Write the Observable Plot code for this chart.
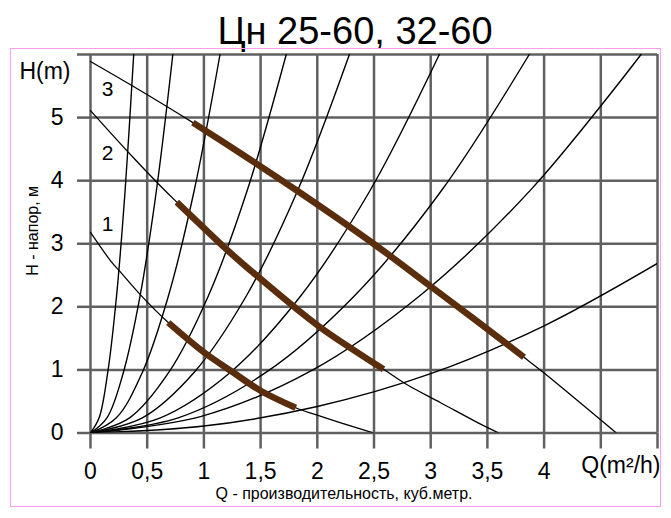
<!DOCTYPE html>
<html><head><meta charset="utf-8">
<script src="https://cdn.jsdelivr.net/npm/d3@7"></script>
<script src="https://cdn.jsdelivr.net/npm/@observablehq/plot@0.6"></script>
<style>
body{margin:0;background:#fff;}
#wrap{position:relative;width:671px;height:518px;font-family:"Liberation Sans",Arial,sans-serif;}
#frame{position:absolute;left:10px;top:48px;width:649px;height:457px;border:1.5px solid #ff9ee8;pointer-events:none;}
</style></head><body><div id="wrap"><div id="frame"></div></div>
<script>
// ---- data ----
const title = "Цн 25-60, 32-60";
const xTicks = [0, 0.5, 1, 1.5, 2, 2.5, 3, 3.5, 4, 4.5, 5];
const xTickLabels = ["0", "0,5", "1", "1,5", "2", "2,5", "3", "3,5", "4", "", ""];
const yTicks = [0, 1, 2, 3, 4, 5, 6];
const yTickLabels = ["0", "1", "2", "3", "4", "5", ""];
const xUnitLabel = "Q(m²/h)";
const yUnitLabel = "H(m)";
const xCaption = "Q - производительность, куб.метр.";
const yCaption = "H - напор, м";

// pump curves (speed 1, 2, 3)
const pump1Q = [0, 0.177, 0.265, 0.441, 0.686, 1.0, 1.25, 1.5, 1.81, 1.986, 2.207, 2.498];
const pump1H = [3.18, 2.73, 2.55, 2.19, 1.75, 1.28, 0.97, 0.67, 0.40, 0.29, 0.16, 0.0];
const pump2Q = [0, 0.354, 0.593, 0.761, 1.212, 1.319, 1.823, 2.053, 2.584, 2.796, 3.088, 3.44, 3.60];
const pump2H = [5.11, 4.41, 3.96, 3.66, 2.89, 2.72, 1.96, 1.64, 1.01, 0.76, 0.48, 0.14, 0.0];
const pump3Q = [0, 0.372, 0.903, 1.319, 1.823, 2.496, 2.996, 3.44, 3.823, 4.0, 4.637];
const pump3H = [5.89, 5.50, 4.92, 4.44, 3.84, 3.00, 2.33, 1.73, 1.20, 0.95, 0.0];
// working ranges (thick brown segments), Q from / to
const work1 = [0.686, 1.81];
const work2 = [0.761, 2.584];
const work3 = [0.903, 3.823];
const pumpNames = ["1", "2", "3"];
const pumpLabelQ = [0.15, 0.15, 0.15];
const pumpLabelH = [3.31, 4.44, 5.45];

// system (network) curves
const sysH = [0, 0.24, 0.96, 2.16, 3.84, 6.0];
const sysA = [0, 0.076, 0.152, 0.229, 0.305, 0.381];
const sysB = [0, 0.145, 0.290, 0.436, 0.581, 0.726];
const sysC = [0, 0.228, 0.457, 0.685, 0.914, 1.142];
const sysD = [0, 0.345, 0.690, 1.036, 1.381, 1.726];
const sysE = [0, 0.457, 0.913, 1.370, 1.826, 2.283];
const sysF = [0, 0.616, 1.232, 1.848, 2.464, 3.076];
const sysG = [0, 0.773, 1.547, 2.320, 3.094, 3.869];
const sysHQ = [0, 0.97, 1.94, 2.92, 3.89, 4.855];
const sysHH = [0, 0.26, 0.98, 2.20, 3.87, 6.0];
const sysIQ = [0, 1, 2, 3, 4, 5];
const sysIH = [0, 0.11, 0.42, 0.94, 1.70, 2.69];

// ---- tables for Plot ----
const sysData = [];
[sysA, sysB, sysC, sysD, sysE, sysF, sysG].forEach((qs, k) =>
  qs.forEach((q, i) => sysData.push({id: "s" + k, Q: q, H: sysH[i]})));
sysHQ.forEach((q, i) => sysData.push({id: "s7", Q: q, H: sysHH[i]}));
sysIQ.forEach((q, i) => sysData.push({id: "s8", Q: q, H: sysIH[i]}));

const pumps = [[pump1Q, pump1H, work1], [pump2Q, pump2H, work2], [pump3Q, pump3H, work3]];
const pumpData = [], workData = [];
pumps.forEach(([qs, hs, w], k) => qs.forEach((q, i) => {
  pumpData.push({id: k, Q: q, H: hs[i]});
  if (q >= w[0] - 1e-9 && q <= w[1] + 1e-9) workData.push({id: k, Q: q, H: hs[i]});
}));
const labelData = pumpNames.map((n, i) => ({n, Q: pumpLabelQ[i], H: pumpLabelH[i]}));
const xFmt = new Map(xTicks.map((t, i) => [t, xTickLabels[i]]));
const yFmt = new Map(yTicks.map((t, i) => [t, yTickLabels[i]]));

const grid = "#606060";
const chart = Plot.plot({
  width: 671, height: 518,
  marginLeft: 90, marginRight: 14, marginTop: 54, marginBottom: 85.5,
  style: {fontFamily: "'Liberation Sans', Arial, sans-serif", background: "transparent", color: "black"},
  x: {domain: [0, 5]},
  y: {domain: [0, 6]},
  marks: [
    Plot.gridX(xTicks, {stroke: grid, strokeOpacity: 1, strokeWidth: 2.5}),
    Plot.gridY(yTicks, {stroke: grid, strokeOpacity: 1, strokeWidth: 2.5}),
    Plot.axisX(xTicks, {tickSize: 16, tickPadding: 14, stroke: grid, strokeWidth: 2.5, fontSize: 23, tickFormat: d => xFmt.get(d), label: null}),
    Plot.axisY(yTicks, {tickSize: 13, tickPadding: 14, stroke: grid, strokeWidth: 2.5, fontSize: 23, tickFormat: d => yFmt.get(d), label: null}),
    Plot.line(sysData, {x: "Q", y: "H", z: "id", curve: "catmull-rom", stroke: "black", strokeWidth: 1.4, clip: true}),
    Plot.line(pumpData, {x: "Q", y: "H", z: "id", curve: "catmull-rom", stroke: "black", strokeWidth: 1.3, clip: true}),
    Plot.line(workData, {x: "Q", y: "H", z: "id", curve: "catmull-rom", stroke: "#5a2e0c", strokeWidth: 6.5, strokeLinecap: "butt"}),
    Plot.text(labelData, {x: "Q", y: "H", text: "n", fontSize: 21}),
    Plot.text([yUnitLabel], {frameAnchor: "top-left", textAnchor: "end", dx: -20, dy: 8, fontSize: 23}),
    Plot.text([xUnitLabel], {frameAnchor: "bottom-right", textAnchor: "end", dx: 3, dy: 40, fontSize: 23}),
    Plot.text([title], {frameAnchor: "top", dx: -19, dy: -37, fontSize: 38}),
    Plot.text([xCaption], {frameAnchor: "bottom", dx: -30, dy: 66, fontSize: 16}),
    Plot.text([yCaption], {frameAnchor: "left", rotate: -90, dx: -58, dy: 32, fontSize: 16})
  ]
});
document.getElementById("wrap").appendChild(chart);
</script>
</body></html>
